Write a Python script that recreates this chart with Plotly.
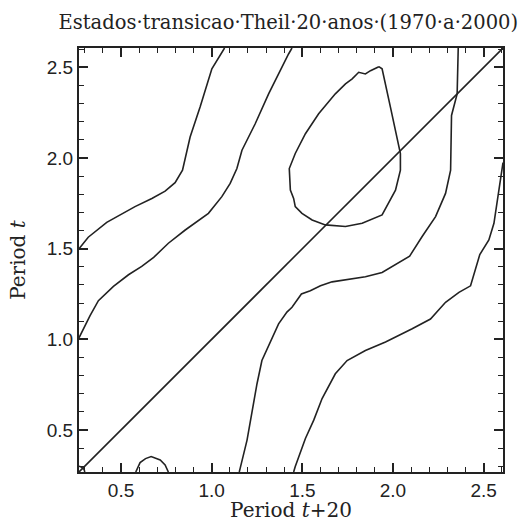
import plotly.graph_objects as go

# Contour lines of the Theil transition density, traced as (x, y) paths
# x: Period t+20, y: Period t
outer_left_x = [0.268, 0.319, 0.421, 0.495, 0.577, 0.670, 0.743, 0.798, 0.839, 0.881, 0.936, 1.001, 1.071]
outer_left_y = [1.500, 1.563, 1.645, 1.686, 1.732, 1.777, 1.817, 1.864, 1.933, 2.116, 2.281, 2.492, 2.607]

inner_left_x = [0.268, 0.329, 0.375, 0.458, 0.541, 0.614, 0.680, 0.761, 0.854, 0.982, 1.056, 1.102, 1.139, 1.167, 1.240, 1.314, 1.424, 1.443]
inner_left_y = [1.008, 1.131, 1.213, 1.292, 1.356, 1.402, 1.452, 1.530, 1.603, 1.695, 1.787, 1.860, 1.942, 2.043, 2.189, 2.354, 2.574, 2.607]

peak_x = [1.922, 1.940, 1.986, 2.032, 2.041, 2.041, 2.014, 1.940, 1.830, 1.738, 1.627, 1.554, 1.498, 1.461, 1.452,
          1.434, 1.428, 1.428, 1.461, 1.517, 1.590, 1.682, 1.738, 1.775, 1.811, 1.848, 1.876, 1.922]
peak_y = [2.504, 2.492, 2.281, 2.061, 2.025, 1.933, 1.823, 1.686, 1.640, 1.622, 1.631, 1.658, 1.695, 1.732, 1.777,
          1.823, 1.897, 1.942, 2.025, 2.134, 2.244, 2.354, 2.409, 2.437, 2.473, 2.464, 2.482, 2.504]

inner_right_x = [2.360, 2.354, 2.323, 2.321, 2.318, 2.290, 2.235, 2.161, 2.092, 1.940, 1.848, 1.664, 1.600, 1.544,
                 1.495, 1.443, 1.415, 1.369, 1.310, 1.277, 1.250, 1.222, 1.195, 1.157, 1.152]
inner_right_y = [2.607, 2.354, 2.235, 2.080, 1.933, 1.805, 1.677, 1.567, 1.459, 1.369, 1.345, 1.317, 1.295, 1.268,
                 1.250, 1.177, 1.150, 1.085, 0.957, 0.883, 0.755, 0.590, 0.444, 0.288, 0.268]

outer_right_x = [2.607, 2.585, 2.557, 2.529, 2.479, 2.428, 2.364, 2.290, 2.207, 2.106, 1.959, 1.848, 1.747, 1.682,
                 1.609, 1.563, 1.517, 1.461, 1.452]
outer_right_y = [1.975, 1.823, 1.640, 1.548, 1.468, 1.295, 1.259, 1.204, 1.112, 1.058, 0.985, 0.938, 0.883, 0.810,
                 0.673, 0.554, 0.453, 0.298, 0.268]

bump_x = [0.581, 0.605, 0.635, 0.666, 0.716, 0.743, 0.761]
bump_y = [0.268, 0.320, 0.342, 0.353, 0.334, 0.307, 0.268]

corner_x = [0.268, 0.280, 0.296, 0.300]
corner_y = [0.300, 0.296, 0.282, 0.268]

diag = [0.268, 2.607]

axis_range = [0.268, 2.607]
tick_vals = [0.5, 1.0, 1.5, 2.0, 2.5]
tick_text = ["0.5", "1.0", "1.5", "2.0", "2.5"]

ink = "#222222"

fig = go.Figure()
for xs, ys in [(outer_left_x, outer_left_y), (inner_left_x, inner_left_y), (peak_x, peak_y),
               (inner_right_x, inner_right_y), (outer_right_x, outer_right_y),
               (bump_x, bump_y), (corner_x, corner_y), (diag, diag)]:
    fig.add_trace(go.Scatter(x=xs, y=ys, mode="lines",
                             line=dict(color=ink, width=1.6), showlegend=False))

title_font = dict(family="DejaVu Serif, serif", size=20, color=ink)
tick_font = dict(family="Liberation Sans, Arial, sans-serif", size=19, color=ink)

tick_style = dict(range=axis_range, tickvals=tick_vals, ticktext=tick_text,
                  ticks="inside", ticklen=9, tickwidth=1.6, tickcolor=ink,
                  minor=dict(ticks="inside", ticklen=5, tickwidth=1.3, tickcolor=ink, dtick=0.1),
                  showline=True, linecolor=ink, linewidth=2, mirror="ticks",
                  showgrid=False, zeroline=False, automargin=False)

fig.update_layout(
    width=529, height=522, template="simple_white",
    margin=dict(l=79, r=26, t=48, b=50),
    title=dict(text="Estados·transicao·Theil·20·anos·(1970·a·2000)",
               x=0.545, xanchor="center", y=0.958, yanchor="middle",
               font=dict(family="DejaVu Serif, serif", size=19.5, color=ink)),
    xaxis=dict(tick_style, tickfont=tick_font,
               title=dict(text="Period <i>t</i>+20", standoff=8, font=title_font)),
    yaxis=dict(tick_style, tickfont=tick_font,
               title=dict(text="Period <i>t</i>", standoff=16, font=title_font)),
    # unlabeled companion axes carrying the same tick marks on all four sides
    xaxis2=dict(tick_style, overlaying="x", anchor="y", side="bottom", showticklabels=False),
    yaxis2=dict(tick_style, overlaying="y", anchor="x", side="left", showticklabels=False),
)

fig.write_html("out.html")
